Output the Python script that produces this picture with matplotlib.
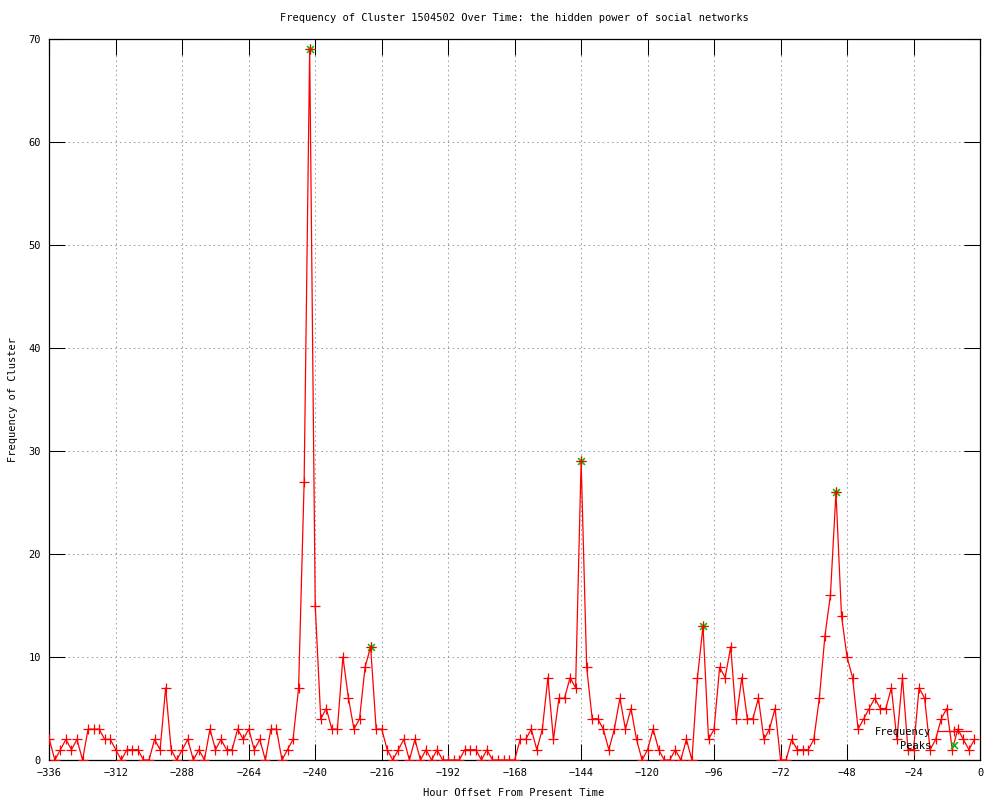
import numpy as np
import matplotlib
matplotlib.use("Agg")
import matplotlib.pyplot as plt
from matplotlib.lines import Line2D

# ---------------- data ----------------
title = "Frequency of Cluster 1504502 Over Time: the hidden power of social networks"
x_label = "Hour Offset From Present Time"
y_label = "Frequency of Cluster"

hours = list(range(-336, 0, 2))  # one sample every 2 hours
frequency = [
    2, 0, 1, 2, 1, 2, 0, 3, 3, 3, 2, 2, 1, 0, 1, 1, 1, 0, 0, 2,      # -336 .. -298
    1, 7, 1, 0, 1, 2, 0, 1, 0, 3, 1, 2, 1, 1, 3, 2, 3, 1, 2, 0,      # -296 .. -258
    3, 3, 0, 1, 2, 7, 27, 69, 15, 4, 5, 3, 3, 10, 6, 3, 4, 9, 11, 3, # -256 .. -218
    3, 1, 0, 1, 2, 0, 2, 0, 1, 0, 1, 0, 0, 0, 0, 1, 1, 1, 0, 1,      # -216 .. -178
    0, 0, 0, 0, 0, 2, 2, 3, 1, 3, 8, 2, 6, 6, 8, 7, 29, 9, 4, 4,     # -176 .. -138
    3, 1, 3, 6, 3, 5, 2, 0, 1, 3, 1, 0, 0, 1, 0, 2, 0, 8, 13, 2,     # -136 .. -98
    3, 9, 8, 11, 4, 8, 4, 4, 6, 2, 3, 5, 0, 0, 2, 1, 1, 1, 2, 6,     # -96 .. -58
    12, 16, 26, 14, 10, 8, 3, 4, 5, 6, 5, 5, 7, 2, 8, 1, 1, 7, 6, 1, # -56 .. -18
    2, 4, 5, 1, 3, 2, 1, 2,                                          # -16 .. -2
]
assert len(hours) == len(frequency)

peak_hours = [-242, -220, -144, -100, -52]
peak_values = [69, 11, 29, 13, 26]

x_ticks = list(range(-336, 1, 24))
y_ticks = list(range(0, 71, 10))

# ---------------- style ----------------
FONT = "DejaVu Sans Mono"
FS = 7.5
plt.rcParams["font.family"] = [FONT, "DejaVu Sans"]
plt.rcParams["font.size"] = FS

fig = plt.figure(figsize=(10, 8), dpi=100)
ax = fig.add_axes([49.3 / 1000, 40 / 800, (980 - 49.3) / 1000, (760 - 39) / 800])

ax.set_xlim(-336, 0)
ax.set_ylim(0, 70)
ax.set_xticks(x_ticks)
ax.set_yticks(y_ticks)
ax.tick_params(which="both", direction="in", length=11.5, width=0.75,
               top=True, right=True, labelsize=FS, pad=6, colors="black")

ax.grid(True, color="#a0a0a0", linestyle=(0, (1.5, 3)), linewidth=0.75)
ax.set_axisbelow(True)
for s in ax.spines.values():
    s.set_linewidth(0.9)
    s.set_color("black")

red = "#ff0000"
green = "#00c000"

# peaks (gnuplot '*' point: plus + cross), drawn under the frequency line
ax.plot(peak_hours, peak_values, linestyle="none", marker=(8, 2, 0),
        markersize=7, markeredgewidth=0.8, color=green, zorder=3)
ax.plot(hours, frequency, color=red, linewidth=0.9, marker="+",
        markersize=7.5, markeredgewidth=0.9, zorder=4)

# text
fig.text(514 / 1000, 1 - 18 / 800, title, ha="center", va="center", fontsize=FS)
fig.text(514 / 1000, 1 - 793 / 800, x_label, ha="center", va="center", fontsize=FS)
fig.text(13 / 1000, 1 - 400 / 800, y_label, ha="center", va="center",
         rotation=90, fontsize=FS)

# legend (gnuplot style: right-justified text, sample to the right)
h_freq = Line2D([], [], color=red, linewidth=0.9, marker="+",
                markersize=7.5, markeredgewidth=0.9)
h_peak = Line2D([], [], color=green, linestyle="none", marker=(4, 2, 45),
                markersize=7, markeredgewidth=0.8)
leg = ax.legend([h_freq, h_peak], ["Frequency", "    Peaks"], loc="lower right",
                frameon=False, markerfirst=False, handlelength=3.2,
                handletextpad=0.6, labelspacing=0.35, borderpad=0.0,
                borderaxespad=0.9, fontsize=FS, numpoints=1)
leg.set_zorder(5)

fig.savefig("out.png", dpi=100)
